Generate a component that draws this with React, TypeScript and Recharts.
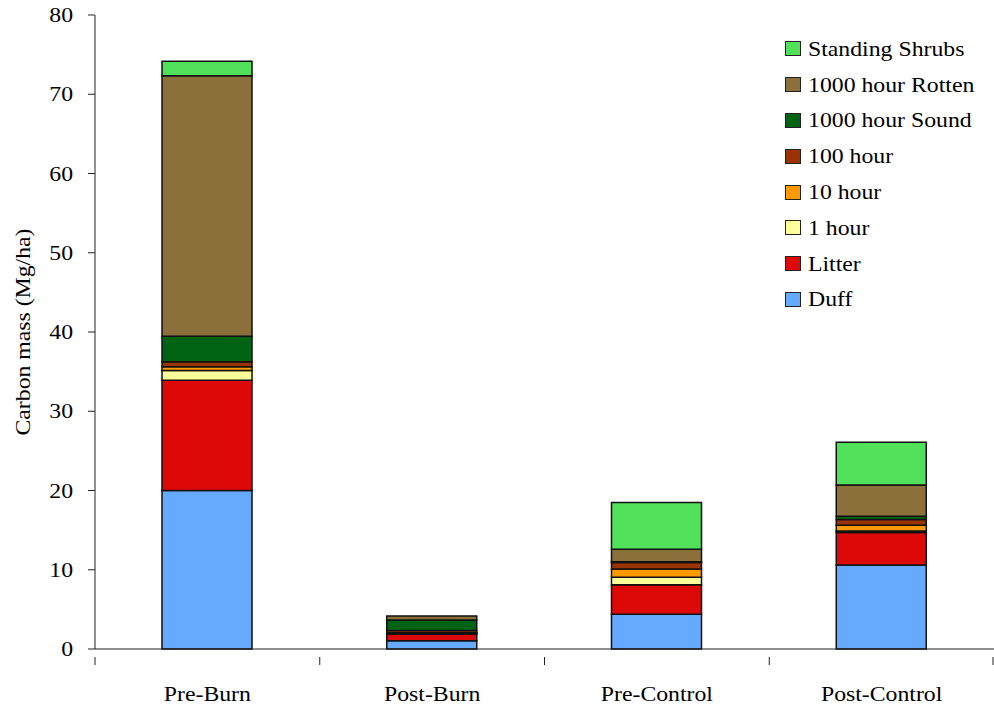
import React from "react";
import { BarChart, Bar, XAxis, YAxis, Legend } from "recharts";

const categories = ["Pre-Burn", "Post-Burn", "Pre-Control", "Post-Control"];
const duff = [20.0, 1.05, 4.4, 10.6];
const litter = [13.9, 0.8, 3.7, 4.1];
const oneHour = [1.25, 0.1, 0.95, 0.2];
const tenHour = [0.45, 0.1, 1.05, 0.7];
const hundredHour = [0.65, 0.3, 0.8, 0.75];
const thousandSound = [3.2, 1.3, 0.1, 0.4];
const thousandRotten = [32.9, 0.5, 1.6, 3.95];
const standingShrubs = [1.8, 0.0, 5.9, 5.4];
const yTicks = [0, 10, 20, 30, 40, 50, 60, 70, 80];

const series = [
  { key: "duff", name: "Duff", values: duff, color: "#66AAFF" },
  { key: "litter", name: "Litter", values: litter, color: "#DD0808" },
  { key: "oneHour", name: "1 hour", values: oneHour, color: "#FFFF99" },
  { key: "tenHour", name: "10 hour", values: tenHour, color: "#FF9900" },
  { key: "hundredHour", name: "100 hour", values: hundredHour, color: "#993300" },
  { key: "thousandSound", name: "1000 hour Sound", values: thousandSound, color: "#006414" },
  { key: "thousandRotten", name: "1000 hour Rotten", values: thousandRotten, color: "#8C703C" },
  { key: "standingShrubs", name: "Standing Shrubs", values: standingShrubs, color: "#50E05A" },
];

const data = categories.map((c, i) => {
  const row: any = { name: c };
  series.forEach((s) => (row[s.key] = s.values[i]));
  return row;
});

const FONT = '"Liberation Serif", "DejaVu Serif", serif';
const FS = 22;
const SX = 1.08;
const W = 994;
const H = 704;
const LEFT = 95;
const HALF = (W - LEFT) / categories.length / 2;

const CatTick = (props: any) => {
  const { x, y, payload, index } = props;
  return (
    <g>
      <line x1={x - HALF} y1={y} x2={x - HALF} y2={y + 8} stroke="#222" strokeWidth={1} />
      {index === categories.length - 1 && (
        <line x1={x + HALF - 1} y1={y} x2={x + HALF - 1} y2={y + 8} stroke="#222" strokeWidth={1} />
      )}
      <text
        transform={`translate(${x},${y + 44}) scale(${SX},1)`}
        x={0}
        y={0}
        textAnchor="middle"
        fontFamily={FONT}
        fontSize={FS}
        fill="#000"
      >
        {payload.value}
      </text>
    </g>
  );
};

const ValTick = (props: any) => {
  const { x, y, payload } = props;
  return (
    <text
      transform={`translate(${x - 13},${y + 7}) scale(${SX},1)`}
      x={0}
      y={0}
      textAnchor="end"
      fontFamily={FONT}
      fontSize={FS}
      fill="#000"
    >
      {payload.value}
    </text>
  );
};

const LegendContent = () => {
  const items = [...series].reverse();
  return (
    <div style={{ fontFamily: FONT, fontSize: FS, color: "#000" }}>
      {items.map((s) => (
        <div key={s.key} style={{ display: "flex", alignItems: "center", height: 35.8 }}>
          <span
            style={{
              display: "inline-block",
              width: 14,
              height: 13,
              background: s.color,
              border: "1.5px solid #222",
              marginRight: 7,
              flex: "none",
            }}
          />
          <span
            style={{
              display: "inline-block",
              transform: `scaleX(${SX})`,
              transformOrigin: "left center",
              whiteSpace: "nowrap",
            }}
          >
            {s.name}
          </span>
        </div>
      ))}
    </div>
  );
};

const YLabel = (props: any) => {
  const vb = props.viewBox || {};
  const cy = (vb.y || 15) + (vb.height || 634) / 2;
  return (
    <text
      transform={`translate(30,${cy}) rotate(-90) scale(${SX},1)`}
      x={0}
      y={0}
      textAnchor="middle"
      fontFamily={FONT}
      fontSize={FS}
      fill="#000"
    >
      Carbon mass (Mg/ha)
    </text>
  );
};

export default function App() {
  return (
    <div style={{ position: "absolute", left: 0, top: 0, width: W, height: H, background: "#fff" }}>
      <BarChart
        width={W}
        height={H}
        data={data}
        margin={{ top: 15, right: 0, bottom: 0, left: 0 }}
      >
        <XAxis
          dataKey="name"
          height={55}
          tickLine={false}
          axisLine={{ stroke: "#222", strokeWidth: 1 }}
          tick={<CatTick />}
          interval={0}
        />
        <YAxis
          width={LEFT}
          domain={[0, 80]}
          ticks={yTicks}
          interval={0}
          tickSize={7}
          tickLine={{ stroke: "#222" }}
          axisLine={{ stroke: "#222", strokeWidth: 1 }}
          tick={<ValTick />}
          label={<YLabel />}
        />
        <Legend
          layout="horizontal"
          verticalAlign="middle"
          align="center"
          content={<LegendContent />}
          wrapperStyle={{ position: "absolute", top: 31, left: 785, width: 209 }}
        />
        {series.map((s) => (
          <Bar
            key={s.key}
            dataKey={s.key}
            name={s.name}
            stackId="a"
            fill={s.color}
            stroke="#111"
            strokeWidth={1.5}
            barSize={90}
            isAnimationActive={false}
          />
        ))}
      </BarChart>
    </div>
  );
}
